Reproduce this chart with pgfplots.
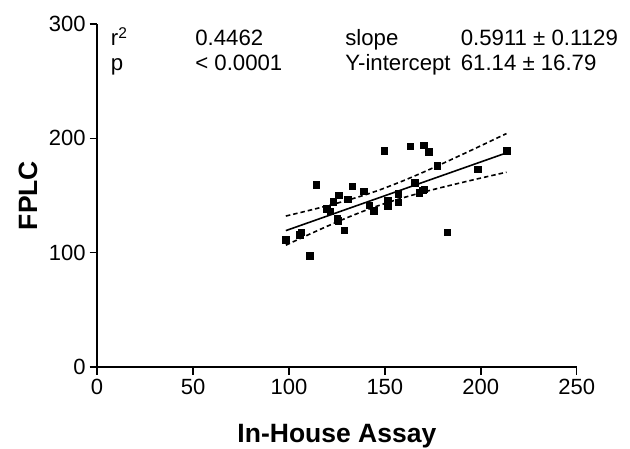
\documentclass[border=0pt]{standalone}
\usepackage{fontspec}
\setmainfont{Liberation Sans}
\usepackage{pgfplots}
\pgfplotsset{compat=1.18}
\begin{document}
\begin{tikzpicture}[x=1pt,y=1pt]
\useasboundingbox (0,0) rectangle (630,448);
\begin{axis}[
  at={(97.1pt,81pt)}, anchor=south west,
  scale only axis, width=479.6pt, height=343pt,
  xmin=0, xmax=250, ymin=0, ymax=300,
  axis x line*=bottom, axis y line*=left,
  axis line style={line width=1.5pt},
  every tick/.style={black, line width=1.5pt},
  tick align=outside, major tick length=7.5pt,
  xtick={0,50,100,150,200,250}, ytick={0,100,200,300},
  minor tick num=0,
  /pgf/number format/assume math mode=true,
  tick label style={font=\fontsize{22}{22}\selectfont},
  xticklabel style={yshift=-1pt},
  yticklabel style={xshift=-0.5pt},
  clip=false,
]
\addplot[only marks, mark=square*, mark size=3.3pt, black] coordinates {
(98.4,111.4) (105.5,115.8) (106.4,117.9) (110.8,97.6) (114.2,159.2)
(119.8,138.7) (121.6,136.3) (123.0,144.5) (125.9,150.1) (125.1,129.9)
(125.6,128.1) (128.9,119.6) (130.6,146.9) (132.9,158.0) (138.9,153.9)
(141.8,141.6) (144.2,136.9) (149.7,189.1) (151.5,145.7) (151.5,140.7)
(156.9,151.5) (156.9,144.2) (163.3,193.2) (165.4,161.2) (167.9,152.2)
(169.6,154.5) (170.6,155.4) (170.3,194.1) (172.9,188.2) (177.2,175.9)
(182.5,117.9) (198.4,173.0) (213.4,189.1)
};
% regression line
\addplot[black, line width=1.6pt] coordinates {(98.4,119.30) (213.4,187.28)};
% 95% confidence bands
\addplot[black, line width=1.6pt, dash pattern=on 4.5pt off 3pt, smooth] coordinates {
(98.4,132.05) (110,136.74) (120,140.99) (130,145.59) (140,150.72) (145.7,153.96)
(150,156.59) (160,163.18) (170,170.34) (180,177.87) (190,185.62) (200,193.49) (213.4,204.18)};
\addplot[black, line width=1.6pt, dash pattern=on 4.5pt off 3pt, smooth] coordinates {
(98.4,106.55) (110,115.58) (120,123.15) (130,130.37) (140,137.06) (145.7,140.56)
(150,143.03) (160,148.26) (170,152.92) (180,157.21) (190,161.28) (200,165.23) (213.4,170.38)};
\begin{scope}[every node/.style={anchor=base west, inner sep=0pt, font=\fontsize{22.2}{22.2}\selectfont}]
\node at (axis cs:7.1,281.0) {r\textsuperscript{2}};
\node at (axis cs:51.1,281.0) {0.4462};
\node at (axis cs:129.3,281.0) {slope};
\node at (axis cs:189.5,281.0) {0.5911 ± 0.1129};
\node at (axis cs:7.1,258.9) {p};
\node at (axis cs:51.1,258.9) {< 0.0001};
\node at (axis cs:129.3,258.9) {Y-intercept};
\node at (axis cs:189.5,258.9) {61.14 ± 16.79};
\end{scope}
\end{axis}
\node[anchor=base, inner sep=0pt, font=\fontsize{26.5}{26.5}\selectfont\bfseries] at (336.9,6) {In-House Assay};
\node[anchor=base, rotate=90, inner sep=0pt, font=\fontsize{26.5}{26.5}\selectfont\bfseries] at (37,252.5) {FPLC};
\end{tikzpicture}
\end{document}
